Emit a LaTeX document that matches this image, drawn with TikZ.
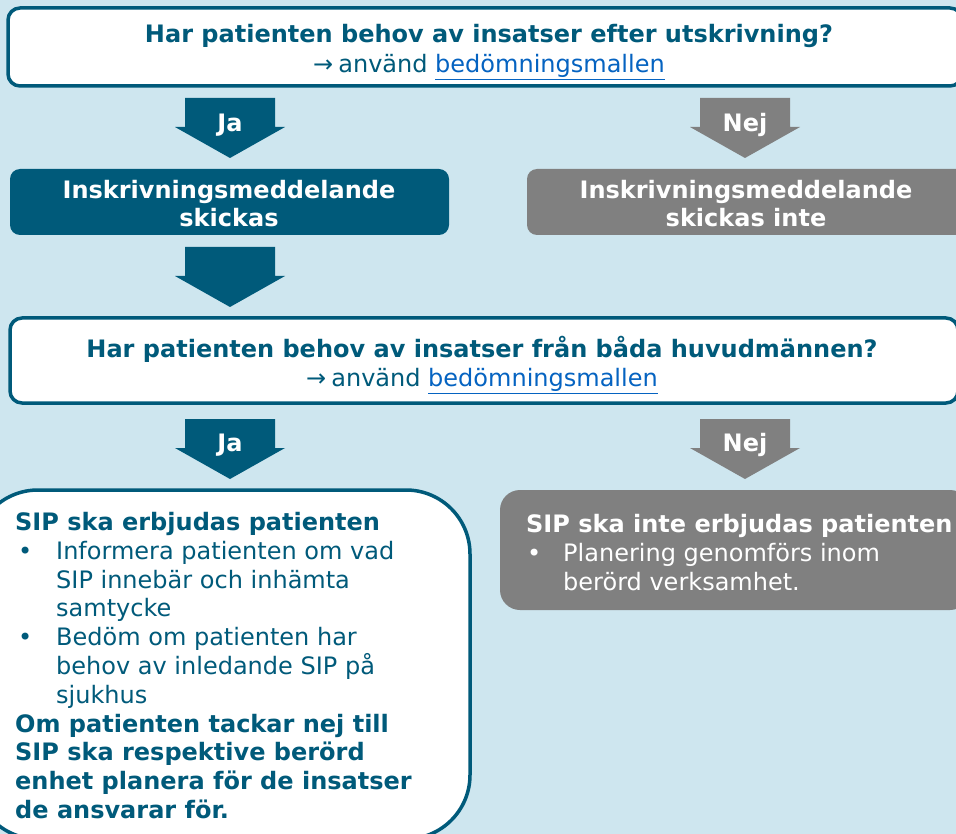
\documentclass[tikz,border=0pt]{standalone}
\usepackage{fontspec}
\setmainfont{DejaVu Sans}

\definecolor{sipteal}{RGB}{0,90,122}
\definecolor{sipgrey}{RGB}{128,128,128}
\definecolor{sipbg}{RGB}{206,230,239}
\definecolor{siplink}{RGB}{5,99,193}

\newcommand{\sipfont}{\fontsize{24}{28.8}\selectfont}
\newcommand{\siplink}{→\hspace{5pt}använd
    \textcolor{siplink}{\underline{bedömningsmallen}}}
% block arrow: colour, centre x, top y, tip y
\newcommand{\sipshape}[4]{%
    \fill[#1] (#2-45,#3) -- (#2+45,#3) -- (#2+45,#4-31) -- (#2+55,#4-31)
        -- (#2,#4) -- (#2-55,#4-31) -- (#2-45,#4-31) -- cycle;}

\begin{document}
\begin{tikzpicture}[x=1pt,y=-1pt]

\useasboundingbox (0,0) rectangle (956,834);
\clip (0,0) rectangle (956,834);
\fill[sipbg] (0,0) rectangle (956,834);

\begin{scope}[every node/.style={inner sep=0pt,line width=3.5pt}]

    % question boxes
    \node[draw=sipteal,fill=white,rounded corners=12pt,
          minimum width=954pt,minimum height=78pt] (A) at (485,47) {};
    \node[draw=sipteal,fill=white,rounded corners=12pt,
          minimum width=948pt,minimum height=85pt] (E) at (484,360.5) {};

    % answer boxes
    \node[fill=sipteal,rounded corners=10pt,
          minimum width=439pt,minimum height=66pt] (C) at (229.5,202) {};
    \node[fill=sipgrey,rounded corners=10pt,
          minimum width=443pt,minimum height=66pt] (D) at (748.5,202) {};

    \node[draw=sipteal,fill=white,rounded corners=64pt,
          minimum width=496pt,minimum height=349pt] (F) at (222,664.5) {};
    \node[fill=sipgrey,rounded corners=20pt,
          minimum width=470pt,minimum height=120pt] (G) at (735,550) {};

\end{scope}

\begin{scope}[every node/.style={inner sep=0pt,font=\sipfont}]

    \node[align=center,text=sipteal,font=\fontsize{24}{30}\selectfont] (At) at (489,52)
        {\textbf{Har patienten behov av insatser efter utskrivning?}\\
         \siplink};
    \node[align=center,text=sipteal,font=\fontsize{24}{29}\selectfont] (Et) at (482,365)
        {\textbf{Har patienten behov av insatser från båda huvudmännen?}\\
         \siplink};

    \node[align=center,text=white,font=\bfseries\fontsize{24}{28}\selectfont] (Ct) at (229,204)
        {Inskrivningsmeddelande\\skickas};
    \node[align=center,text=white,font=\bfseries\fontsize{24}{28}\selectfont] (Dt) at (746,204)
        {Inskrivningsmeddelande\\skickas inte};

    \node[anchor=north west,align=left,text=sipteal] (Ft) at (15,512)
        {\textbf{SIP ska erbjudas patienten}\\
         \makebox[41pt][l]{\hspace{3pt}•}Informera patienten om vad\\
         \hspace*{41pt}SIP innebär och inhämta\\
         \hspace*{41pt}samtycke\\
         \makebox[41pt][l]{\hspace{3pt}•}Bedöm om patienten har\\
         \hspace*{41pt}behov av inledande SIP på\\
         \hspace*{41pt}sjukhus\\
         \textbf{Om patienten tackar nej till}\\
         \textbf{SIP ska respektive berörd}\\
         \textbf{enhet planera för de insatser}\\
         \textbf{de ansvarar för.}};
    \node[anchor=north west,align=left,text=white] (Gt) at (526,514)
        {\textbf{SIP ska inte erbjudas patienten}\\
         \makebox[37pt][l]{\hspace{1pt}•}Planering genomförs inom\\
         \hspace*{37pt}berörd verksamhet.};

\end{scope}

% block arrows
\sipshape{sipteal}{230}{98}{158}
\sipshape{sipgrey}{745}{98}{158}
\sipshape{sipteal}{230}{247}{307}
\sipshape{sipteal}{230}{419}{479}
\sipshape{sipgrey}{745}{419}{479}

\begin{scope}[every node/.style={inner sep=0pt,text=white,font=\bfseries\sipfont}]

    \node (J1) at (230,125) {Ja};
    \node (N1) at (745,125) {Nej};
    \node (J3) at (230,445) {Ja};
    \node (N3) at (745,445) {Nej};

\end{scope}

\end{tikzpicture}
\end{document}
